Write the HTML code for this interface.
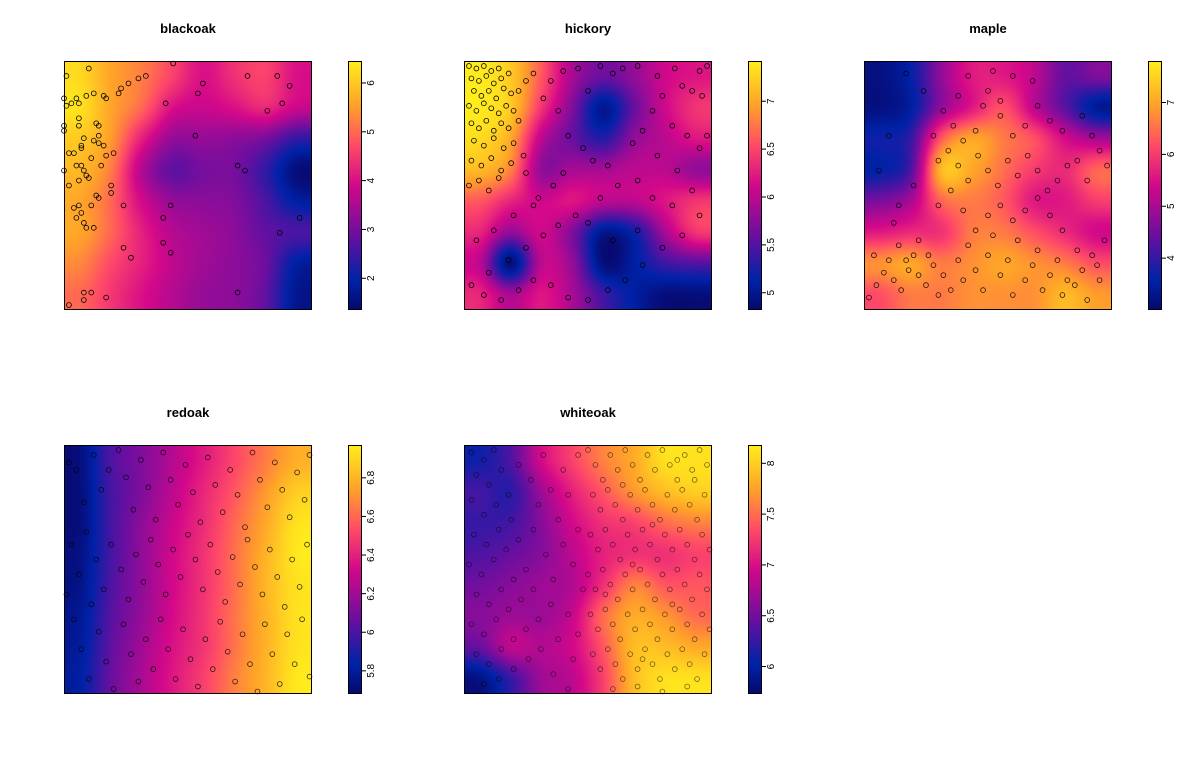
<!DOCTYPE html>
<html><head><meta charset="utf-8"><style>
html,body{margin:0;padding:0;background:#fff;}
#wrap{position:relative;width:1200px;height:768px;overflow:hidden;font-family:"Liberation Sans",sans-serif;}
canvas{position:absolute;}
svg{position:absolute;left:0;top:0;}
</style></head><body>
<div id="wrap">
<svg id="svg" width="1200" height="768"></svg>
</div>
<script>
// ---- data ----
const panelNames = ["blackoak","hickory","maple","redoak","whiteoak"];
const rangeBlackoak = [1.35, 6.45];
const rangeHickory = [4.82, 7.42];
const rangeMaple = [3.0, 7.8];
const rangeRedoak = [5.68, 6.97];
const rangeWhiteoak = [5.73, 8.18];
const ticksBlackoak = [2,3,4,5,6];
const ticksHickory = [5,5.5,6,6.5,7];
const ticksMaple = [4,5,6,7];
const ticksRedoak = [5.8,6,6.2,6.4,6.6,6.8];
const ticksWhiteoak = [6,6.5,7,7.5,8];
const gridBlackoak = [
[6.2,5.6,5.2,4.6,4.0,4.4,4.6,4.0],
[6.3,5.6,5.0,4.0,3.8,4.0,4.3,3.8],
[6.0,5.5,4.2,3.3,3.3,3.2,3.0,2.4],
[5.8,5.2,3.6,2.8,3.0,3.0,2.4,1.5],
[5.6,5.0,3.9,3.3,3.2,3.1,2.6,1.9],
[5.6,5.0,4.2,3.6,3.4,3.2,2.8,2.6],
[5.3,4.7,4.2,3.7,3.4,3.2,2.9,1.9],
[5.0,4.5,4.0,3.6,3.3,3.2,2.8,1.7]];
const gridHickory = [
[7.4,7.2,6.6,5.9,5.6,5.8,6.1,6.2],
[7.4,7.2,6.4,5.7,5.0,5.6,6.1,6.4],
[7.3,7.0,6.0,5.6,5.3,5.8,6.0,6.2],
[7.1,6.8,5.8,5.9,5.9,6.0,6.0,5.8],
[6.6,6.3,6.1,6.2,6.0,6.0,6.2,6.4],
[6.3,5.8,6.1,5.7,5.0,5.2,5.9,6.4],
[6.0,4.9,6.0,5.8,4.9,5.1,5.4,5.5],
[6.3,5.9,6.2,5.9,5.4,5.1,4.9,4.9]];
const gridMaple = [
[3.2,3.6,4.8,5.6,5.6,5.2,4.4,4.6],
[3.2,3.5,4.8,5.6,6.2,5.2,4.3,3.4],
[3.7,4.0,6.3,7.0,6.6,6.2,5.4,5.0],
[3.6,4.2,7.2,7.0,6.5,6.0,5.8,6.4],
[4.6,5.0,6.4,6.6,6.3,5.6,5.6,6.0],
[5.6,5.8,5.9,6.6,6.6,6.2,5.8,5.4],
[6.8,7.0,6.6,6.8,7.0,6.8,6.6,6.2],
[6.2,6.6,6.6,6.8,6.8,6.8,7.2,6.9]];
const gridRedoak = [
[5.72,6.0,6.12,6.25,6.38,6.52,6.65,6.78],
[5.72,5.98,6.12,6.27,6.42,6.56,6.72,6.87],
[5.72,5.98,6.15,6.3,6.44,6.6,6.76,6.93],
[5.74,5.98,6.16,6.32,6.46,6.62,6.79,6.95],
[5.75,6.0,6.16,6.32,6.46,6.62,6.8,6.93],
[5.78,6.02,6.17,6.33,6.47,6.63,6.79,6.93],
[5.8,6.04,6.2,6.35,6.47,6.63,6.79,6.93],
[5.82,6.06,6.22,6.37,6.5,6.66,6.8,6.95]];
const gridWhiteoak = [
[6.1,6.35,6.95,7.3,7.6,7.8,8.1,8.1],
[6.3,6.2,6.7,7.1,7.4,7.7,7.9,8.0],
[6.25,6.3,6.6,6.95,7.2,7.3,7.5,7.6],
[6.35,6.45,6.6,6.85,7.1,7.2,7.2,7.3],
[6.5,6.6,6.7,6.8,7.2,7.6,7.4,7.4],
[6.6,6.7,6.7,6.9,7.5,7.8,7.7,7.5],
[6.45,6.85,6.8,6.95,7.4,7.9,7.9,7.8],
[5.85,6.25,6.7,6.85,7.3,7.9,8.1,8.1]];
const pointsBlackoak = "1,6 10,3 44,1 33,6 30,7 26,9 23,11 22,13 16,14 17,15 12,13 9,14 5,15 0,15 3,17 6,17 1,18 6,23 6,26 13,25 14,26 0,26 0,28 8,31 12,32 14,30 14,33 16,34 7,34 7,35 2,37 4,37 11,39 17,38 20,37 5,42 7,42 15,42 0,44 8,44 9,46 10,47 6,48 2,50 19,50 19,53 13,54 14,55 4,59 6,58 11,58 7,61 5,63 8,65 9,67 12,67 24,58 43,58 40,63 40,73 43,77 24,75 27,79 8,93 11,93 8,96 17,95 2,98 70,93 53,30 41,17 54,13 56,9 74,6 86,6 91,10 88,17 82,20 70,42 73,44 95,63 87,69";
const pointsHickory = "2,2 5,3 8,2 11,4 14,3 3,7 6,8 9,6 12,9 15,7 18,5 4,12 7,14 10,12 13,15 16,11 19,13 2,18 5,20 8,17 11,19 14,21 17,18 20,20 3,25 6,27 9,24 12,28 15,25 18,27 22,24 4,32 8,34 12,31 16,35 20,33 3,40 7,42 11,39 15,44 19,41 24,38 2,50 6,48 10,52 14,47 22,12 25,8 28,5 32,15 35,8 38,20 40,4 46,3 50,12 55,2 60,5 64,3 70,2 78,6 85,3 95,4 98,2 88,10 92,12 96,14 80,14 76,20 72,28 68,33 84,26 90,30 95,35 78,38 86,44 98,30 42,30 48,35 52,40 58,42 62,50 70,48 76,55 84,58 92,52 95,62 88,70 80,75 72,82 65,88 58,92 50,96 42,95 35,90 28,88 22,92 15,96 8,94 3,90 10,85 18,80 25,75 32,70 38,66 45,62 30,55 36,50 25,45 40,45 55,55 50,65 60,72 70,68 20,62 12,68 5,72 28,58";
const pointsMaple = "2,95 5,90 8,85 10,80 12,88 15,92 18,84 20,78 22,86 25,90 28,82 30,94 14,74 17,80 22,72 26,78 32,86 35,92 38,80 40,88 42,74 45,84 48,92 50,78 52,70 55,86 58,80 60,94 62,72 65,88 68,82 70,76 72,92 75,86 78,80 80,94 82,88 85,90 88,84 90,96 92,78 95,88 97,72 94,82 86,76 80,68 75,62 70,55 65,60 60,64 55,58 50,62 45,68 40,60 35,52 30,58 38,42 42,48 46,38 50,44 54,50 58,40 62,46 66,38 70,44 74,52 78,48 82,42 86,40 90,48 95,36 98,42 92,30 88,22 80,28 75,24 70,18 65,26 60,30 55,22 50,12 48,18 45,28 40,32 36,26 34,36 30,40 28,30 32,20 38,14 42,6 52,4 60,6 68,8 55,16 24,12 17,5 10,30 6,44 14,58 12,65 4,78 20,50";
const pointsRedoak = "2,7 5,10 8,23 12,4 15,18 18,10 22,2 25,13 28,26 31,6 34,17 37,30 40,3 43,14 46,24 49,8 52,19 55,31 58,5 61,16 64,27 67,10 70,20 73,33 76,3 79,14 82,25 85,7 88,18 91,29 94,11 97,22 99,4 3,40 6,52 9,35 13,46 16,58 19,40 23,50 26,62 29,44 32,55 35,38 38,48 41,60 44,42 47,53 50,36 53,46 56,58 59,40 62,51 65,63 68,45 71,56 74,38 77,49 80,60 83,42 86,53 89,65 92,46 95,57 98,40 4,70 7,82 10,94 14,75 17,87 20,98 24,72 27,84 30,95 33,78 36,90 39,70 42,82 45,94 48,74 51,86 54,97 57,78 60,90 63,71 66,83 69,95 72,76 75,88 78,99 81,72 84,84 87,96 90,76 93,88 96,70 99,93 1,60 11,64";
const pointsWhiteoak = "3,3 8,6 12,2 5,12 10,16 15,10 3,22 8,28 13,24 18,20 4,36 9,40 14,34 19,30 2,48 7,52 12,46 17,42 22,38 5,60 10,64 15,58 20,54 25,50 3,72 8,76 13,70 18,66 23,62 28,58 5,84 10,88 15,82 20,78 25,74 30,70 8,96 14,94 20,90 26,86 31,82 22,8 27,14 32,4 30,24 35,18 28,34 33,44 38,30 36,54 40,40 35,64 42,68 38,78 44,86 36,92 42,98 46,76 48,58 44,48 46,34 42,20 40,10 46,4 50,2 53,8 56,14 59,4 62,10 65,2 68,8 71,14 74,4 77,10 80,2 83,8 86,14 89,4 92,10 95,2 98,8 52,20 55,26 58,18 61,24 64,30 67,20 70,26 73,18 76,24 79,30 82,20 85,26 88,18 91,24 94,30 97,20 51,36 54,42 57,34 60,40 63,46 66,36 69,42 72,34 75,40 78,46 81,36 84,42 87,34 90,40 93,46 96,36 99,42 50,52 53,58 56,50 59,56 62,62 65,52 68,58 71,50 74,56 77,62 80,52 83,58 86,50 89,56 92,62 95,52 98,58 51,68 54,74 57,66 60,72 63,78 66,68 69,74 72,66 75,72 78,78 81,68 84,74 87,66 90,72 93,78 96,68 99,74 52,84 55,90 58,82 61,88 64,94 67,84 70,90 73,82 76,88 79,94 82,84 85,90 88,82 91,88 94,94 97,84 60,98 70,97 80,99 90,97 64,16 86,6 76,32 68,48 84,64 72,86 93,14 57,60";

// ---- layout ----
const panels = [
 {name:"blackoak", grid:gridBlackoak, range:rangeBlackoak, ticks:ticksBlackoak, pts:pointsBlackoak, x:64, y:61, op:1},
 {name:"hickory", grid:gridHickory, range:rangeHickory, ticks:ticksHickory, pts:pointsHickory, x:464, y:61, op:1},
 {name:"maple", grid:gridMaple, range:rangeMaple, ticks:ticksMaple, pts:pointsMaple, x:864, y:61, op:0.85},
 {name:"redoak", grid:gridRedoak, range:rangeRedoak, ticks:ticksRedoak, pts:pointsRedoak, x:64, y:445, op:0.8},
 {name:"whiteoak", grid:gridWhiteoak, range:rangeWhiteoak, ticks:ticksWhiteoak, pts:pointsWhiteoak, x:464, y:445, op:0.55}
];
const PW=248, PH=249, CBW=14, CBOFF=284;
const stops=[[0,[8,8,110]],[0.12,[0,34,168]],[0.3,[106,15,160]],[0.5,[212,8,138]],[0.66,[255,74,104]],[0.82,[255,160,42]],[1,[255,238,28]]];
function pal(t){t=Math.max(0,Math.min(1,t));for(let i=1;i<stops.length;i++){if(t<=stops[i][0]){const a=stops[i-1],b=stops[i];const f=(t-a[0])/(b[0]-a[0]);return a[1].map((c,k)=>Math.round(c+(b[1][k]-c)*f));}}return stops[stops.length-1][1];}
function cr(p0,p1,p2,p3,t){return 0.5*(2*p1+(-p0+p2)*t+(2*p0-5*p1+4*p2-p3)*t*t+(-p0+3*p1-3*p2+p3)*t*t*t);}
function sample(g,u,v){const n=g.length,m=g[0].length;const gx=u*m-0.5,gy=v*n-0.5;const ix=Math.floor(gx),iy=Math.floor(gy);const fx=gx-ix,fy=gy-iy;const cl=(a,mx)=>Math.max(0,Math.min(mx-1,a));const rows=[];for(let j=-1;j<=2;j++){const r=g[cl(iy+j,n)];rows.push(cr(r[cl(ix-1,m)],r[cl(ix,m)],r[cl(ix+1,m)],r[cl(ix+2,m)],fx));}return cr(rows[0],rows[1],rows[2],rows[3],fy);}
const wrap=document.getElementById('wrap');
const svg=document.getElementById('svg');
const NS="http://www.w3.org/2000/svg";
function mk(tag,attrs,parent){const e=document.createElementNS(NS,tag);for(const k in attrs)e.setAttribute(k,attrs[k]);(parent||svg).appendChild(e);return e;}
panels.forEach(p=>{
 const [lo,hi]=p.range;
 const cv=document.createElement('canvas');cv.width=PW;cv.height=PH;cv.style.left=p.x+'px';cv.style.top=p.y+'px';
 
 
 wrap.insertBefore(cv,svg);
 const ctx=cv.getContext('2d');const img=ctx.createImageData(PW,PH);
 for(let y=0;y<PH;y++)for(let x=0;x<PW;x++){const v=sample(p.grid,(x+0.5)/PW,(y+0.5)/PH);const c=pal((v-lo)/(hi-lo));const i=(y*PW+x)*4;img.data[i]=c[0];img.data[i+1]=c[1];img.data[i+2]=c[2];img.data[i+3]=255;}
 ctx.putImageData(img,0,0);
 const cb=document.createElement('canvas');cb.width=CBW;cb.height=PH;cb.style.left=(p.x+CBOFF)+'px';cb.style.top=p.y+'px';
 
 
 wrap.insertBefore(cb,svg);
 const c2=cb.getContext('2d');for(let y=0;y<PH;y++){const c=pal(1-(y+0.5)/PH);c2.fillStyle=`rgb(${c[0]},${c[1]},${c[2]})`;c2.fillRect(0,y,CBW,1);}
 const g=mk('g',{});
 
 
 const t=mk('text',{x:p.x+PW/2,y:p.y-28,'text-anchor':'middle','font-size':13,'font-weight':'bold',fill:'#000'},g);t.textContent=p.name;
 
 
 const pg=mk('g',{fill:'none',stroke:'#000','stroke-width':0.8,'stroke-opacity':p.op},g);
 
 
 p.pts.split(' ').forEach(s=>{const [a,b]=s.split(',').map(Number);const c=mk('circle',{cx:p.x+a/100*PW,cy:p.y+b/100*PH,r:2.4},pg);
  
  });
 const fr=mk('rect',{x:p.x+0.5,y:p.y+0.5,width:PW-1,height:PH-1,fill:'none',stroke:'#000','stroke-width':1},g);
 
 
 const cx=p.x+CBOFF;
 const cf=mk('rect',{x:cx+0.5,y:p.y+0.5,width:CBW-1,height:PH-1,fill:'none',stroke:'#000','stroke-width':1},g);
 
 
 p.ticks.forEach(v=>{const ty=p.y+PH-(v-lo)/(hi-lo)*PH;
  mk('line',{x1:cx+CBW,x2:cx+CBW+4,y1:ty,y2:ty,stroke:'#000','stroke-width':1},g);
  const lb=mk('text',{x:0,y:0,transform:`translate(${cx+CBW+12},${ty}) rotate(-90)`,'text-anchor':'middle','font-size':10,fill:'#000'},g);
  lb.textContent=String(v);
  
  });
});
</script>
</body></html>
